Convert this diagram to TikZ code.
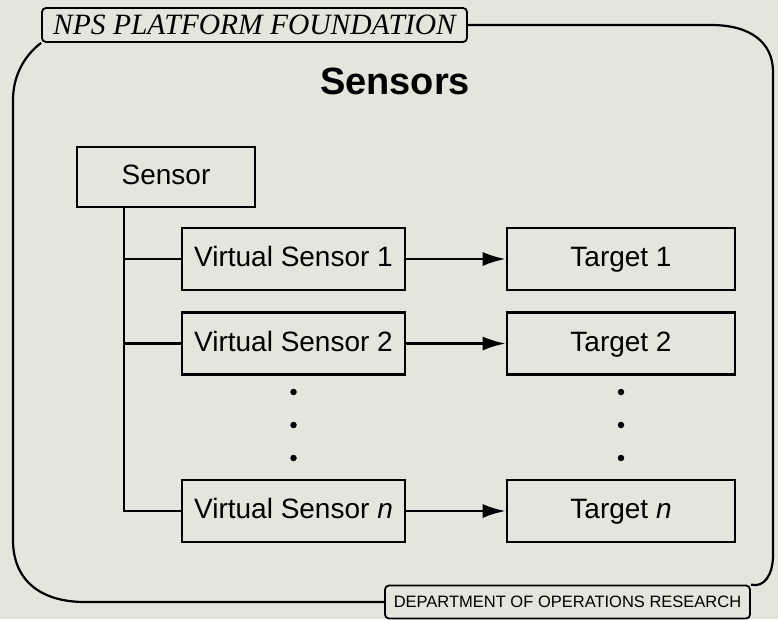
\documentclass[tikz,border=0pt]{standalone}
\usepackage{fontspec}
\setmainfont{Liberation Sans}
\newfontfamily\npsfont{Liberation Serif}
\usetikzlibrary{arrows.meta}
\definecolor{bg}{RGB}{229,229,221}
\begin{document}
\begin{tikzpicture}[x=1pt,y=-1pt,
  box/.style={draw, line width=2.6pt, minimum height=62pt, inner sep=0pt,
    text height=20pt, text depth=5pt,
    font=\fontsize{28}{32}\selectfont},
  vsbox/.style={box, minimum width=223pt},
  tbox/.style={box, minimum width=228pt},
  conn/.style={line width=2.6pt},
  arr/.style={line width=2.6pt, -{Latex[length=23pt,width=14pt]}},
  frame/.style={line width=2.2pt},
  dotm/.style={circle, fill=black, inner sep=0pt, minimum size=6.5pt},
  tag/.style={draw, line width=1.8pt, rounded corners=4pt, inner sep=0pt}]
\fill[bg] (0,0) rectangle (778,619);
\useasboundingbox (0,0) rectangle (778,619);

% labels of the frame
\node[tag, minimum width=425pt, minimum height=34pt,
  font=\npsfont\itshape\fontsize{29.5}{31}\selectfont] (nps) at (254.5,25) {NPS PLATFORM FOUNDATION};
\node[tag, minimum width=365pt, minimum height=33pt,
  font=\fontsize{16.5}{18}\selectfont] (dept) at (567.5,602) {DEPARTMENT OF OPERATIONS RESEARCH};

% frame
\draw[frame] (nps.east) -- (711,25) .. controls (750,25) and (773,42) .. (773,72)
  -- (773,555) .. controls (773,575) and (764,588) .. (dept.north east);
\draw[frame] (nps.south west) .. controls (25,55) and (13,75) .. (13,100)
  -- (13,540) .. controls (13,580) and (40,602) .. (85,602) -- (dept.west);

% title
\node[font=\bfseries\fontsize{38}{42}\selectfont] (title) at (395,81) {Sensors};

% boxes
\node[box, minimum width=178pt, minimum height=60pt] (sensor) at (166,177) {Sensor};
\node[vsbox] (vs1) at (293.5,259) {Virtual Sensor 1};
\node[vsbox] (vs2) at (293.5,343.5) {Virtual Sensor 2};
\node[vsbox] (vsn) at (293.5,511) {Virtual Sensor \textit{n}};
\node[tbox] (t1) at (621,259) {Target 1};
\node[tbox] (t2) at (621,343.5) {Target 2};
\node[tbox] (tn) at (621,511) {Target \textit{n}};

% dots
\foreach \y [count=\i] in {392,425,458}{
  \node[dotm] (da\i) at (293.5,\y) {};
  \node[dotm] (db\i) at (621,\y) {};
}

% connectors
\coordinate (tr) at (124,0);
\draw[conn] (tr |- sensor.south) |- (vsn.west);
\draw[conn] (tr |- vs1.west) -- (vs1.west);
\draw[conn] (tr |- vs2.west) -- (vs2.west);
\draw[arr] (vs1) -- (t1);
\draw[arr] (vs2) -- (t2);
\draw[arr] (vsn) -- (tn);
\end{tikzpicture}
\end{document}
